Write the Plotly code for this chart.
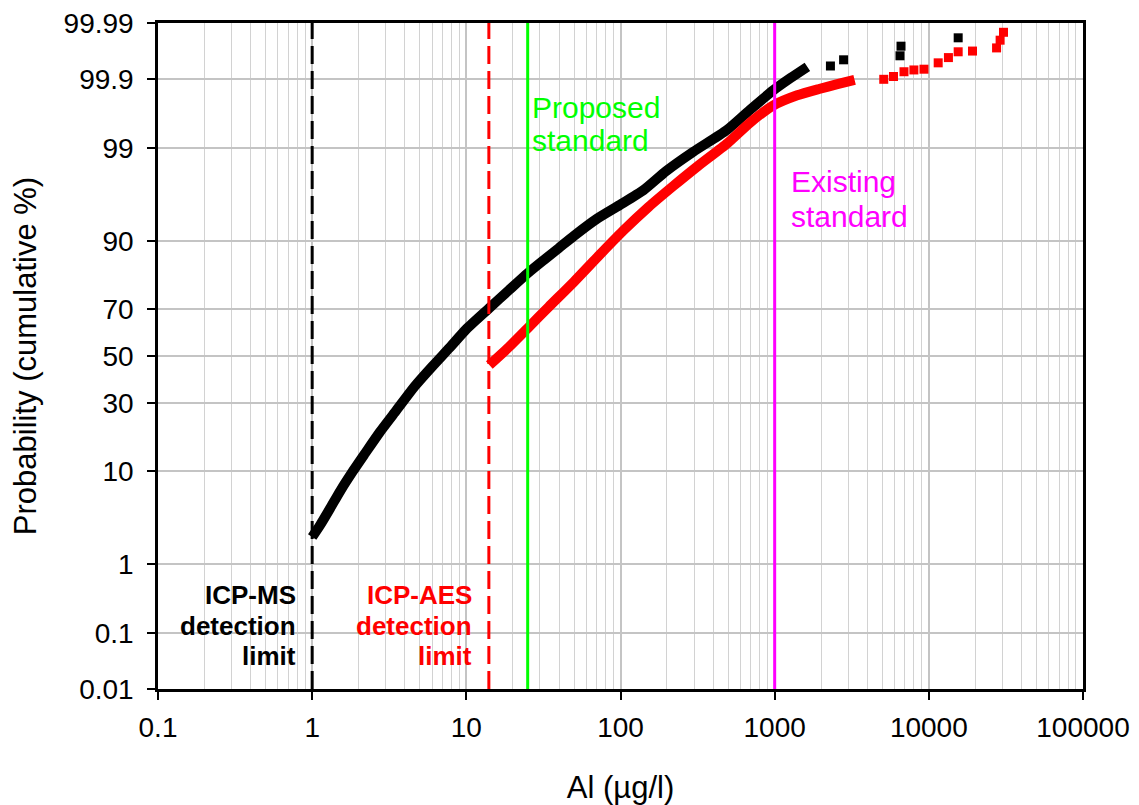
import plotly.graph_objects as go
from statistics import NormalDist
import math

nd = NormalDist()


def probit(p):
    return nd.inv_cdf(p / 100.0)


# ---------------- data ----------------
# ICP-MS (black) continuous part
ms_al = [1.0, 1.126, 1.31, 1.52, 1.84, 2.2, 2.75, 3.53, 4.62, 6.04, 7.77, 10, 14.1, 18.9,
         25.1, 31.8, 39.8, 49.8, 70, 98.6, 141, 198, 296, 490, 690, 970, 1270, 1630]
ms_pct = [2.16, 2.95, 4.47, 6.58, 9.94, 13.8, 19.8, 27.3, 36.7, 45.5, 53.6, 61.8, 70.4,
          76.9, 82.3, 85.8, 88.6, 91.0, 93.7, 95.4, 96.8, 98.06, 98.87, 99.42, 99.70,
          99.847, 99.905, 99.938]
# ICP-MS sparse tail
ms_tail_al = [2300, 2800, 6500, 6600, 15500]
ms_tail_pct = [99.94, 99.953, 99.96, 99.973, 99.981]

# ICP-AES (red) continuous part
aes_al = [14.1, 18.9, 25.1, 34.2, 49.8, 72, 104, 152, 219, 318, 495, 690, 970, 1400,
          1940, 2550, 3300]
aes_pct = [46.0, 54.0, 62.3, 70.8, 79.6, 86.8, 91.9, 95.2, 97.1, 98.31, 99.13, 99.54,
           99.74, 99.82, 99.857, 99.88, 99.898]
# ICP-AES sparse tail
aes_tail_al = [5100, 5900, 6900, 8000, 9300, 11500, 13400, 15500, 19200, 27500, 29000, 30500]
aes_tail_pct = [99.90, 99.91, 99.925, 99.93, 99.932, 99.947, 99.957, 99.966, 99.967,
                99.971, 99.979, 99.985]

# reference lines
ms_limit = 1.0
aes_limit = 14.0
proposed_std = 25.0
existing_std = 1000.0

# axes
x_tickvals = [0.1, 1, 10, 100, 1000, 10000, 100000]
x_ticktext = ["0.1", "1", "10", "100", "1000", "10000", "100000"]
y_tick_pct = [0.01, 0.1, 1, 10, 30, 50, 70, 90, 99, 99.9, 99.99]
y_ticktext = ["0.01", "0.1", "1", "10", "30", "50", "70", "90", "99", "99.9", "99.99"]

FONT = "Liberation Sans, Arial, sans-serif"

fig = go.Figure()

fig.add_trace(go.Scatter(x=ms_al, y=[probit(p) for p in ms_pct], mode="lines",
                         line=dict(color="black", width=10, shape="spline", smoothing=0.6),
                         showlegend=False))
fig.add_trace(go.Scatter(x=ms_tail_al, y=[probit(p) for p in ms_tail_pct], mode="markers",
                         marker=dict(symbol="square", size=9, color="black"),
                         showlegend=False))
fig.add_trace(go.Scatter(x=aes_al, y=[probit(p) for p in aes_pct], mode="lines",
                         line=dict(color="#ff0000", width=10, shape="spline", smoothing=0.6),
                         showlegend=False))
fig.add_trace(go.Scatter(x=aes_tail_al, y=[probit(p) for p in aes_tail_pct], mode="markers",
                         marker=dict(symbol="square", size=9, color="#ff0000"),
                         showlegend=False))

# vertical reference lines
for xv, col, dash in [(ms_limit, "black", "18px,7px"), (aes_limit, "#ff0000", "18px,7px"),
                      (proposed_std, "#00ff00", "solid"), (existing_std, "#ff00ff", "solid")]:
    fig.add_shape(type="line", xref="x", yref="paper", x0=xv, x1=xv, y0=0, y1=1,
                  line=dict(color=col, width=3, dash=dash), layer="above")


def label(lines, x, ys, anchor, size, color, bold=False):
    for txt, yv in zip(lines, ys):
        fig.add_annotation(x=x, y=yv, xref="x", yref="y",
                           text=f"<b>{txt}</b>" if bold else txt, showarrow=False,
                           xanchor=anchor, yanchor="middle",
                           font=dict(family=FONT, size=size, color=color))


label(["Proposed", "standard"], math.log10(proposed_std) + 0.015, [2.78, 2.41],
      "left", 30, "#00ff00")
label(["Existing", "standard"], math.log10(existing_std) + 0.09, [1.944, 1.553],
      "left", 30, "#ff00ff")
label(["ICP-MS", "detection", "limit"], math.log10(ms_limit) - 0.09,
      [-2.67, -3.017, -3.352], "right", 26, "black", bold=True)
label(["ICP-AES", "detection", "limit"], math.log10(aes_limit) - 0.095,
      [-2.67, -3.017, -3.352], "right", 26, "#ff0000", bold=True)

minor_x = [m * 10 ** e for e in range(-1, 5) for m in range(2, 10)]

eps = 1e-6
# page body adds an 8px margin; size the figure so the plot lands where the reference has it
fig.update_layout(
    width=1131, height=797,
    margin=dict(l=150, r=56, t=15, b=116),
    paper_bgcolor="white", plot_bgcolor="white",
    font=dict(family=FONT, color="black"),
    showlegend=False,
    xaxis=dict(
        type="log", range=[-1 - eps, 5 + eps], automargin=False,
        tickvals=x_tickvals, ticktext=x_ticktext,
        tickfont=dict(size=28, color="black"),
        ticks="outside", ticklen=8, tickwidth=2, tickcolor="black",
        ticklabelstandoff=4, ticklabeloverflow="allow",
        showline=True, linecolor="black", linewidth=2.5, mirror=True,
        showgrid=True, gridcolor="#c4c4c4", gridwidth=1.5,
        minor=dict(tickvals=minor_x, showgrid=True, gridcolor="#d2d2d2", gridwidth=1,
                   ticks=""),
        zeroline=False,
        title=dict(text="Al (µg/l)", font=dict(size=31, color="black"), standoff=39),
    ),
    yaxis=dict(
        range=[probit(0.01) - eps, probit(99.99) + eps], automargin=False,
        tickvals=[probit(p) for p in y_tick_pct], ticktext=y_ticktext,
        tickfont=dict(size=28, color="black"),
        ticks="outside", ticklen=8, tickwidth=2, tickcolor="black",
        ticklabelstandoff=8, ticklabeloverflow="allow",
        showline=True, linecolor="black", linewidth=2.5, mirror=True,
        showgrid=True, gridcolor="#c4c4c4", gridwidth=1.5,
        zeroline=False,
        title=dict(text="Probability (cumulative %)", font=dict(size=31, color="black"),
                   standoff=22),
    ),
)

fig.write_html("out.html")
